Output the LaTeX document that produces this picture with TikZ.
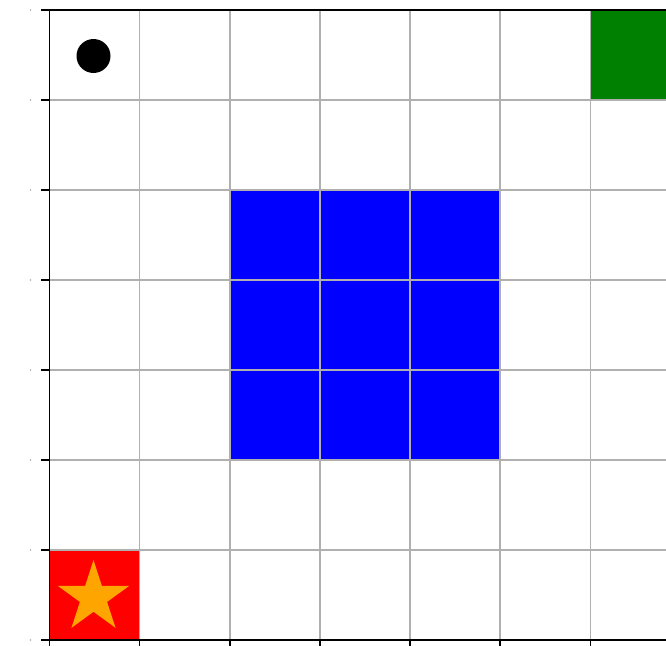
\documentclass[tikz,border=0pt]{standalone}
\definecolor{gridgray}{RGB}{176,176,176}
\definecolor{tickgray}{RGB}{170,170,170}
\definecolor{goalgreen}{RGB}{0,128,0}
\definecolor{starorange}{RGB}{255,165,0}
\begin{document}
\begin{tikzpicture}[x=1pt,y=-1pt,
  gridline/.style={draw=gridgray,line width=1.3pt},
  spine/.style={draw=black,line width=1.4pt},
  tickmark/.style={draw=black,line width=1.1pt},
  ticklabel/.style={fill=tickgray}]
\useasboundingbox (0,0) rectangle (666,645);
\clip (0,0) rectangle (666,645);
% coloured cells
\fill[blue] (230,190) rectangle (500,460);
\fill[goalgreen] (590.5,10) rectangle (690,100);
\fill[red] (49.5,550) rectangle (139.5,640);
% grid
\foreach \x in {139.5,230,320,410,500,590.5} \draw[gridline] (\x,10) -- (\x,640);
\foreach \y in {100,190,280,370,460,550} \draw[gridline] (49.5,\y) -- (690,\y);
% spines
\draw[spine] (49.5,640) -- (49.5,10) -- (690,10);
\draw[spine] (49.5,640) -- (690,640);
% ticks
\foreach \y in {10,100,190,280,370,460,550,640} {
  \draw[tickmark] (41,\y) -- (49.5,\y);
  \fill[ticklabel] (30.5,\y) circle (0.8);
}
\foreach \x in {49.5,139.5,230,320,410,500,590.5} \draw[tickmark] (\x,640) -- (\x,650);
% agent dot
\node[circle,fill=black,inner sep=0pt,minimum size=34pt] (agent) at (93.5,56) {};
% star
\fill[starorange]
  (93.5,560) \foreach \k in {0,...,4} {
    -- ++(0,0) coordinate (tmp)
    -- ({93.5+14.3*cos(-90+72*\k+36)},{597.5+14.3*sin(-90+72*\k+36)})
    -- ({93.5+37.5*cos(-90+72*(\k+1))},{597.5+37.5*sin(-90+72*(\k+1))})
  } -- cycle;
\end{tikzpicture}
\end{document}
